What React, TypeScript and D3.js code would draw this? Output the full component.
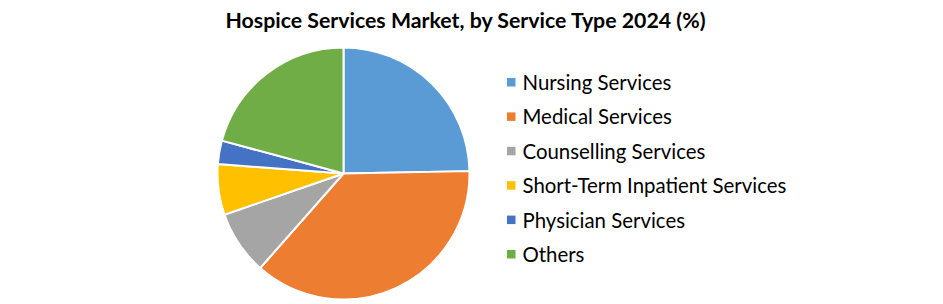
import React from "react";
import * as d3 from "d3";

const title = "Hospice Services Market, by Service Type 2024 (%)";
const categories = [
  "Nursing Services",
  "Medical Services",
  "Counselling Services",
  "Short-Term Inpatient Services",
  "Physician Services",
  "Others",
];
const values = [24.7, 36.8, 8.2, 6.5, 3.0, 20.8];
const colors = ["#5B9BD5", "#ED7D31", "#A5A5A5", "#FFC000", "#4472C4", "#70AD47"];

const W = 943;
const H = 304;
const cx = 343.5;
const cy = 173.5;
const R = 126;
const FONT = "Lato, 'Open Sans', sans-serif";

export default function App() {
  const pie = d3.pie<number>().sort(null).value((d) => d)(values);
  const arc = d3.arc<d3.PieArcDatum<number>>().innerRadius(0).outerRadius(R);
  const legendY = d3.scalePoint<string>().domain(categories).range([90, 262]);
  return (
    <svg width={W} height={H} style={{ position: "absolute", left: 0, top: 0, background: "#fff" }}>
      <rect width={W} height={H} fill="#fff" />
      <text x={465.5} y={28} textAnchor="middle" fontFamily={FONT} fontWeight="bold" fontSize={21.3} fill="#000">
        {title}
      </text>
      <g transform={`translate(${cx},${cy})`}>
        {pie.map((p, i) => (
          <path key={i} d={arc(p) || ""} fill={colors[i]} stroke="#fff" strokeWidth={2} strokeLinejoin="round" />
        ))}
      </g>
      <g>
        {categories.map((c, i) => {
          const y = legendY(c) as number;
          return (
            <g key={c}>
              <rect x={507} y={y - 12} width={8.5} height={8.5} fill={colors[i]} />
              <text x={522.5} y={y} fontFamily={FONT} fontSize={20.4} fill="#000">
                {c}
              </text>
            </g>
          );
        })}
      </g>
    </svg>
  );
}
